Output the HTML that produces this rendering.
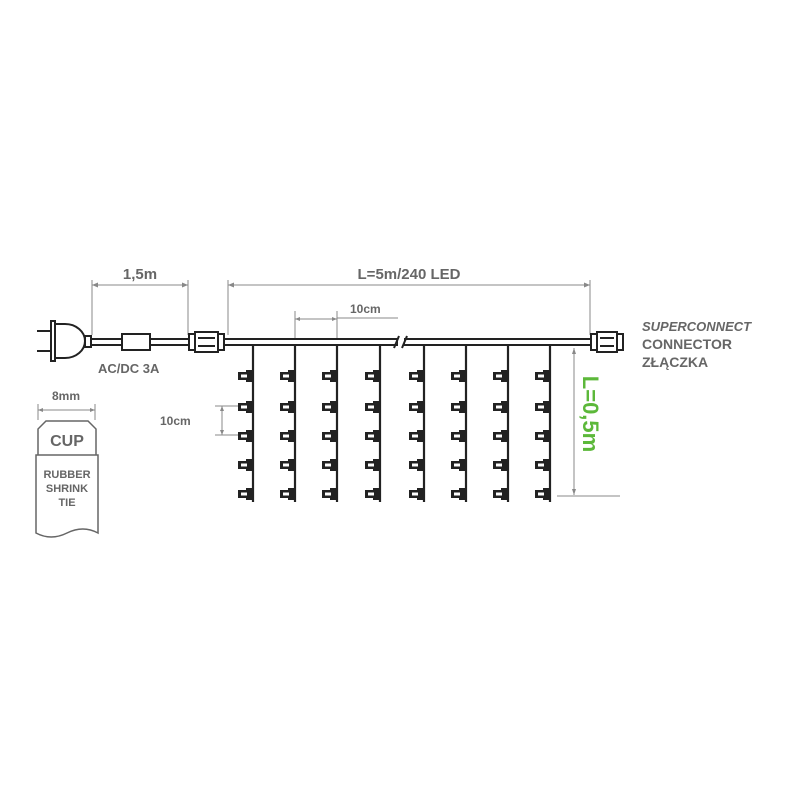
<!DOCTYPE html><html><head><style>body{margin:0;background:#fff}svg{display:block}text{font-family:"Liberation Sans",sans-serif;font-weight:bold;fill:#666}</style></head><body>
<svg width="800" height="800" viewBox="0 0 800 800" xmlns="http://www.w3.org/2000/svg">
<defs>
<g id="b"><path d="M-15,-4 h8 v-2 h7 v12 h-7 v-2 h-8 z" fill="#222"/><rect x="-12" y="-1.5" width="6" height="3" fill="#fff"/></g>
<g id="d"><line x1="0" y1="345" x2="0" y2="502" stroke="#222" stroke-width="2.2"/><use href="#b" y="376"/><use href="#b" y="407"/><use href="#b" y="436"/><use href="#b" y="465"/><use href="#b" y="494"/></g>
</defs>
<g stroke="#888" stroke-width="1" fill="none">
<line x1="92" y1="285" x2="188" y2="285"/><line x1="92" y1="280" x2="92" y2="335"/><line x1="188" y1="280" x2="188" y2="335"/>
<line x1="228" y1="285" x2="590" y2="285"/><line x1="228" y1="280" x2="228" y2="335"/><line x1="590" y1="280" x2="590" y2="335"/>
<line x1="295" y1="319" x2="337" y2="319"/><line x1="295" y1="311" x2="295" y2="340"/><line x1="337" y1="311" x2="337" y2="340"/><line x1="337" y1="318" x2="398" y2="318"/>
<line x1="38" y1="410" x2="95" y2="410"/><line x1="38" y1="404" x2="38" y2="420"/><line x1="95" y1="404" x2="95" y2="420"/>
<line x1="222" y1="406" x2="222" y2="435"/><line x1="215" y1="406" x2="240" y2="406"/><line x1="215" y1="435" x2="240" y2="435"/>
<line x1="574" y1="348" x2="574" y2="495"/><line x1="557" y1="496" x2="620" y2="496"/>
</g>
<g fill="#888"><path d="M92,285 l6,-2.5 v5z"/><path d="M188,285 l-6,-2.5 v5z"/><path d="M228,285 l6,-2.5 v5z"/><path d="M590,285 l-6,-2.5 v5z"/>
<path d="M295,319 l5,-2 v4z"/><path d="M337,319 l-5,-2 v4z"/><path d="M38,410 l5,-2 v4z"/><path d="M95,410 l-5,-2 v4z"/>
<path d="M222,406 l-2,5 h4z"/><path d="M222,435 l-2,-5 h4z"/><path d="M574,348 l-2,6 h4z"/><path d="M574,495 l-2,-6 h4z"/></g>
<g stroke="#222" stroke-width="2" fill="#fff">
<line x1="37" y1="331" x2="51" y2="331"/><line x1="37" y1="351" x2="51" y2="351"/>
<rect x="51" y="321" width="4" height="40"/>
<path d="M55,324 h10 a20,17 0 0 1 0,34 h-10 z"/>
<rect x="85" y="336" width="6" height="11"/>
<rect x="91" y="339" width="31" height="6"/>
<rect x="122" y="334" width="28" height="16"/>
<rect x="150" y="339" width="39" height="6"/>
<rect x="189" y="334" width="6" height="16"/><rect x="195" y="332" width="23" height="20"/><rect x="218" y="334" width="6" height="16"/>
<line x1="198" y1="338" x2="215" y2="338"/><line x1="198" y1="346" x2="215" y2="346"/>
<rect x="224" y="339" width="174" height="6"/>
<rect x="404" y="339" width="187" height="6"/>
<rect x="591" y="334" width="6" height="16"/><rect x="597" y="332" width="20" height="20"/><rect x="617" y="334" width="6" height="16"/>
<line x1="600" y1="338" x2="614" y2="338"/><line x1="600" y1="346" x2="614" y2="346"/>
</g>
<rect x="398" y="336" width="6" height="12" fill="#fff"/>
<line x1="394" y1="348" x2="399" y2="336" stroke="#222" stroke-width="2"/><line x1="402" y1="348" x2="407" y2="336" stroke="#222" stroke-width="2"/>
<use href="#d" x="253"/><use href="#d" x="295"/><use href="#d" x="337"/><use href="#d" x="380"/>
<use href="#d" x="424"/><use href="#d" x="466"/><use href="#d" x="508"/><use href="#d" x="550"/>
<g stroke="#666" stroke-width="1.5" fill="none">
<path d="M38,455 v-26 l8,-8 h42 l8,8 v26"/>
<path d="M36,455 h62 v78 q-15,-8 -31,0 t-31,0 z"/>
</g>
<text x="140" y="279" font-size="15" text-anchor="middle">1,5m</text>
<text x="409" y="279" font-size="15" text-anchor="middle">L=5m/240 LED</text>
<text x="350" y="313" font-size="12">10cm</text>
<text x="98" y="373" font-size="13">AC/DC 3A</text>
<text x="66" y="400" font-size="12" text-anchor="middle">8mm</text>
<text x="67" y="446" font-size="16" text-anchor="middle">CUP</text>
<text x="67" y="478" font-size="11" text-anchor="middle">RUBBER</text>
<text x="67" y="492" font-size="11" text-anchor="middle">SHRINK</text>
<text x="67" y="506" font-size="11" text-anchor="middle">TIE</text>
<text x="160" y="425" font-size="12">10cm</text>
<text x="642" y="331" font-size="13" font-style="italic">SUPERCONNECT</text>
<text x="642" y="349" font-size="14">CONNECTOR</text>
<text x="642" y="367" font-size="14">ZŁĄCZKA</text>
<text transform="translate(583,414) rotate(90)" font-size="22" text-anchor="middle" style="fill:#5cb83a">L=0,5m</text>
</svg></body></html>
